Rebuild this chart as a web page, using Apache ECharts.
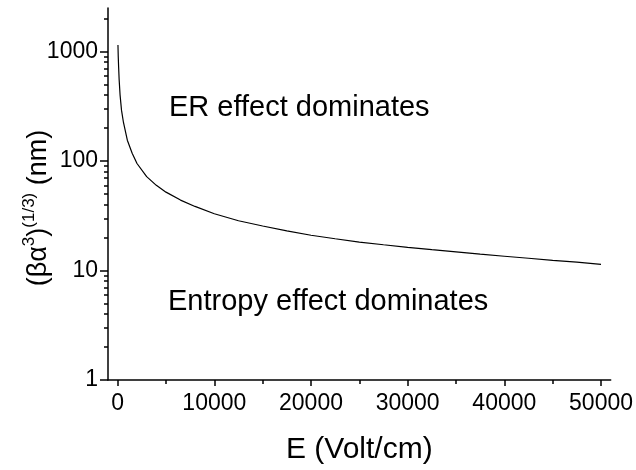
<!DOCTYPE html>
<html>
<head>
<meta charset="utf-8">
<script src="https://cdn.jsdelivr.net/npm/echarts@6/dist/echarts.min.js"></script>
<style>
  html, body { margin: 0; padding: 0; background: #fff; }
  #chart { width: 636px; height: 470px; }
</style>
</head>
<body>
<div id="chart"></div>
<script>
  // values
  const fieldE = [30, 60, 100, 150, 250, 400, 600, 1000, 1500, 2000, 3000, 4000, 5000, 6500, 8000,
    10000, 12500, 15000, 17500, 20000, 22500, 25000, 27500, 30000, 32500, 35000, 37500, 40000,
    42500, 45000, 47500, 50000];
  const sizeNm = [1150, 900, 720, 560, 400, 290, 225, 155, 118, 95, 72, 60, 52, 44, 38.5,
    33, 28.5, 25.5, 23, 21, 19.5, 18.2, 17.2, 16.3, 15.5, 14.8, 14.1, 13.5,
    12.95, 12.4, 11.95, 11.4];

  const xMajorTicks = [0, 10000, 20000, 30000, 40000, 50000];
  const xMinorTicks = [5000, 15000, 25000, 35000, 45000];
  const yMajorTicks = [1, 10, 100, 1000];
  const yMinorTicks = [2, 3, 4, 5, 6, 7, 8, 9, 20, 30, 40, 50, 60, 70, 80, 90,
    200, 300, 400, 500, 600, 700, 800, 900, 2000];

  const xMin = -1000, xMax = 51000;
  const yMin = 1, yMax = 2500;

  const font = '"Liberation Sans", Arial, sans-serif';
  const black = '#000';
  const lineW = 1.5;

  const chart = echarts.init(document.getElementById('chart'));

  const hidden = { show: false };

  chart.setOption({
    animation: false,
    grid: { left: 108, right: 25, top: 8, bottom: 88.3 },
    xAxis: [
      {
        type: 'value',
        min: xMin,
        max: xMax,
        name: 'E (Volt/cm)',
        nameLocation: 'middle',
        nameGap: 55,
        nameTextStyle: { fontSize: 30, fontFamily: font, color: black },
        axisLine: { onZero: false, lineStyle: { color: black, width: lineW } },
        axisTick: { customValues: xMajorTicks, length: 6, lineStyle: { color: black, width: lineW } },
        axisLabel: {
          customValues: xMajorTicks, margin: 12, fontSize: 23, fontFamily: font, color: black,
          formatter: v => String(v)
        },
        splitLine: hidden
      },
      {
        // minor ticks only
        type: 'value',
        position: 'bottom',
        min: xMin,
        max: xMax,
        axisLine: { show: false, onZero: false },
        axisTick: { customValues: xMinorTicks, length: 4, lineStyle: { color: black, width: lineW } },
        axisLabel: hidden,
        splitLine: hidden
      }
    ],
    yAxis: [
      {
        type: 'log',
        logBase: 10,
        min: yMin,
        max: yMax,
        name: '{m|(βα}{s|3}{m|)}{s|(1/3)}{m| (nm)}',
        nameLocation: 'middle',
        nameGap: 52,
        nameTextStyle: {
          padding: [0, 28, 0, 0],
          rich: {
            m: { fontSize: 27, fontFamily: font, color: black, lineHeight: 35 },
            s: { fontSize: 17, fontFamily: font, color: black, lineHeight: 17, verticalAlign: 'top' }
          }
        },
        axisLine: { onZero: false, lineStyle: { color: black, width: lineW } },
        axisTick: hidden,
        axisLabel: hidden,
        splitLine: hidden
      },
      {
        // major ticks and labels, in log10 units
        type: 'value',
        position: 'left',
        min: Math.log10(yMin),
        max: Math.log10(yMax),
        axisLine: { show: false, onZero: false },
        axisTick: { customValues: yMajorTicks.map(Math.log10), length: 8, lineStyle: { color: black, width: lineW } },
        axisLabel: {
          customValues: yMajorTicks.map(Math.log10),
          margin: 10,
          fontSize: 23,
          fontFamily: font,
          color: black,
          formatter: v => String(Math.round(Math.pow(10, v)))
        },
        splitLine: hidden
      },
      {
        // minor ticks
        type: 'value',
        position: 'left',
        min: Math.log10(yMin),
        max: Math.log10(yMax),
        axisLine: { show: false, onZero: false },
        axisTick: { customValues: yMinorTicks.map(Math.log10), length: 4, lineStyle: { color: black, width: lineW } },
        axisLabel: hidden,
        splitLine: hidden
      }
    ],
    graphic: [
      {
        type: 'text',
        style: { text: 'ER effect dominates', x: 169, y: 108, fill: black,
          fontSize: 29, fontFamily: font, align: 'left', verticalAlign: 'middle' }
      },
      {
        type: 'text',
        style: { text: 'Entropy effect dominates', x: 168, y: 302, fill: black,
          fontSize: 29, fontFamily: font, align: 'left', verticalAlign: 'middle' }
      }
    ],
    series: [{
      type: 'line',
      xAxisIndex: 0,
      yAxisIndex: 0,
      data: fieldE.map((e, i) => [e, sizeNm[i]]),
      showSymbol: false,
      smooth: false,
      lineStyle: { color: black, width: 1.2 }
    }]
  });
</script>
</body>
</html>
